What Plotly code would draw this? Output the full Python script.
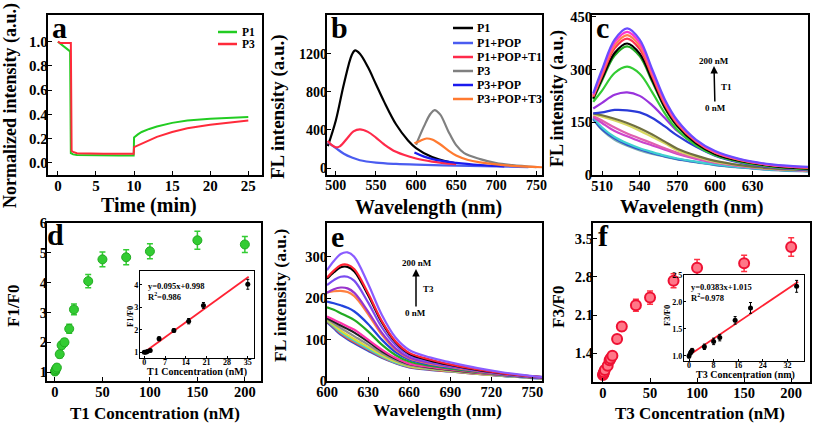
import plotly.graph_objects as go

W, H = 813, 427
FONT = "Liberation Serif"

# ---------------- Panel a data ----------------
a_t_p1 = [0, 0.5, 1.0, 1.6, 1.7, 2.0, 2.5, 4, 6, 8, 9.95, 10.0, 10.5, 11, 12, 13, 15, 17, 20, 22, 25]
a_y_p1 = [1.0, 0.975, 0.95, 0.92, 0.08, 0.07, 0.065, 0.062, 0.06, 0.06, 0.06, 0.21, 0.235, 0.255, 0.28, 0.30, 0.33, 0.35, 0.365, 0.37, 0.378]
a_t_p3 = [0, 0.3, 1.0, 1.7, 1.8, 2.0, 2.5, 4, 6, 8, 9.95, 10.0, 10.5, 11, 12, 13, 15, 17, 20, 22, 25]
a_y_p3 = [1.0, 0.99, 0.99, 0.99, 0.10, 0.09, 0.08, 0.076, 0.075, 0.075, 0.075, 0.13, 0.145, 0.16, 0.19, 0.215, 0.255, 0.285, 0.315, 0.33, 0.35]

# ---------------- Panel b data ----------------
b_wl_p1 = [490, 500, 510, 520, 524, 530, 540, 550, 560, 575, 590, 600, 620, 640, 650]
b_p1 = [230, 500, 880, 1190, 1235, 1200, 1060, 880, 700, 460, 290, 210, 115, 65, 50]
b_wl_p1pop = [490, 500, 510, 520, 530, 550, 575, 600, 650, 700, 740]
b_p1pop = [270, 210, 150, 110, 82, 57, 43, 35, 25, 16, 10]
b_wl_p1popt1 = [490, 495, 500, 505, 515, 522, 530, 540, 550, 560, 575, 600, 620, 650]
b_p1popt1 = [285, 240, 218, 228, 320, 385, 407, 380, 320, 250, 170, 100, 68, 40]
b_wl_p3 = [600, 610, 618, 623, 630, 640, 650, 660, 680, 700, 720, 750]
b_p3 = [245, 440, 570, 609, 563, 390, 240, 157, 94, 52, 31, 10]
b_wl_p3pop = [598, 610, 625, 650, 680, 710]
b_p3pop = [163, 120, 85, 55, 32, 18]
b_wl_p3popt3 = [598, 605, 613, 620, 630, 640, 650, 665, 680, 700, 725, 758]
b_p3popt3 = [260, 285, 310, 300, 250, 185, 132, 85, 60, 38, 20, 8]
b_names = ["P1", "P1+POP", "P1+POP+T1", "P3", "P3+POP", "P3+POP+T3"]
b_colors = ["#000000", "#4a5cf0", "#ff2a4a", "#808080", "#1a1aee", "#ff7a30"]

# ---------------- Panel c data ----------------
c_wl = [503, 510, 520, 530, 540, 550, 560, 570, 585, 600, 620, 645, 674]
c_curves = [
    [232, 300, 385, 417, 385, 300, 215, 155, 100, 68, 45, 30, 23],
    [228, 294, 377, 407, 376, 293, 210, 151, 98, 66, 44, 29, 22],
    [225, 288, 368, 398, 367, 286, 205, 148, 96, 64, 43, 28, 21],
    [222, 282, 360, 388, 358, 280, 200, 145, 94, 63, 42, 28, 21],
    [218, 274, 347, 374, 345, 270, 193, 140, 90, 60, 40, 26, 18],
    [215, 269, 340, 366, 338, 265, 190, 138, 89, 59, 39, 25, 17],
    [208, 240, 290, 308, 288, 235, 175, 128, 84, 56, 37, 24, 16],
    [189, 205, 228, 235, 225, 198, 162, 125, 85, 57, 37, 23, 15],
    [175, 178, 185, 184, 178, 162, 138, 112, 80, 55, 35, 22, 14],
    [175, 170, 160, 148, 133, 115, 95, 75, 55, 40, 28, 19, 14],
    [172, 166, 155, 142, 126, 108, 90, 70, 52, 38, 27, 18, 13],
    [168, 155, 135, 118, 104, 90, 76, 63, 48, 36, 26, 17, 12],
    [165, 148, 125, 110, 96, 84, 72, 60, 46, 35, 25, 17, 12],
    [163, 135, 108, 90, 76, 65, 55, 47, 38, 30, 22, 15, 11],
    [160, 130, 104, 86, 73, 62, 53, 45, 37, 29, 22, 15, 11],
    [158, 128, 100, 83, 70, 60, 52, 44, 36, 28, 21, 14, 10],
]
c_colors = ["#6a4cff", "#ff33cc", "#ff7f50", "#ff3355", "#000000", "#22aa22", "#33cc33",
            "#9933dd", "#2a3ad8", "#707040", "#d8d860", "#e060b0", "#cc44cc", "#40d0d0",
            "#3050d0", "#80b0b0"]

# ---------------- Panel d data ----------------
d_x = [0, 0.5, 1, 2, 5, 7, 10, 15, 20, 35, 50, 75, 100, 150, 200]
d_y = [1.02, 1.05, 1.1, 1.15, 1.6, 1.9, 2.0, 2.45, 3.1, 4.05, 4.78, 4.85, 5.05, 5.42, 5.28]
d_err = [0.1, 0.1, 0.1, 0.1, 0.12, 0.12, 0.12, 0.15, 0.18, 0.22, 0.25, 0.25, 0.25, 0.3, 0.27]
di_x = [0, 0.5, 1, 2, 5, 10, 15, 20, 35]
di_y = [1.0, 1.0, 1.03, 1.08, 1.6, 1.97, 2.38, 3.08, 4.02]
di_err = [0.05, 0.05, 0.05, 0.06, 0.09, 0.08, 0.12, 0.13, 0.22]
di_fit_x = [0, 35.3]
di_fit_y = [0.998, 4.352]

# ---------------- Panel e data ----------------
e_wl = [600, 605, 610, 615, 620, 630, 640, 650, 660, 675, 690, 710, 730, 750, 758]
e_curves = [
    [268, 290, 307, 311, 300, 235, 160, 105, 75, 57, 45, 31, 20, 12, 10],
    [250, 267, 280, 281, 270, 212, 145, 96, 68, 52, 40, 28, 18, 11, 9],
    [247, 263, 275, 276, 265, 208, 142, 94, 66, 50, 39, 27, 18, 11, 9],
    [232, 244, 252, 252, 242, 190, 130, 87, 62, 47, 37, 26, 17, 10, 8],
    [213, 222, 226, 224, 213, 168, 117, 79, 57, 44, 35, 25, 16, 10, 8],
    [214, 217, 218, 215, 205, 162, 112, 76, 55, 42, 34, 24, 16, 10, 8],
    [192, 188, 183, 177, 168, 138, 100, 70, 52, 40, 32, 23, 15, 9, 7],
    [178, 172, 164, 156, 147, 120, 88, 63, 47, 37, 30, 22, 15, 9, 7],
    [156, 148, 140, 132, 124, 100, 76, 56, 42, 34, 28, 20, 14, 9, 7],
    [152, 143, 134, 126, 117, 95, 72, 54, 41, 33, 27, 20, 14, 9, 7],
    [150, 139, 128, 118, 108, 88, 67, 50, 38, 31, 26, 19, 13, 8, 6],
    [148, 135, 122, 111, 101, 82, 63, 47, 36, 30, 25, 18, 13, 8, 6],
    [146, 132, 118, 107, 97, 78, 60, 45, 35, 29, 24, 18, 12, 8, 6],
    [144, 130, 115, 104, 94, 76, 58, 44, 34, 28, 23, 17, 12, 8, 6],
    [142, 127, 112, 101, 91, 73, 56, 43, 33, 27, 23, 17, 12, 7, 6],
]
e_colors = ["#8a5cff", "#ff2233", "#000000", "#7a4cf0", "#9933cc", "#ff8040", "#2244dd",
            "#22aa22", "#ff33aa", "#222222", "#909090", "#dddd33", "#40d0d0", "#ff5533", "#3050d0"]

# ---------------- Panel f data ----------------
f_x = [0, 0.5, 1, 2, 5, 7, 8, 10, 15, 20, 35, 50, 75, 100, 150, 200]
f_y = [1.0, 1.02, 1.05, 1.09, 1.17, 1.27, 1.3, 1.35, 1.66, 1.89, 2.28, 2.42, 2.73, 2.97, 3.05, 3.35]
f_err = [0.04, 0.04, 0.04, 0.05, 0.05, 0.05, 0.05, 0.06, 0.07, 0.08, 0.11, 0.12, 0.13, 0.15, 0.15, 0.17]
fi_x = [0, 0.5, 1, 5, 8, 10, 15, 20, 35]
fi_y = [1.0, 1.06, 1.1, 1.17, 1.27, 1.34, 1.66, 1.89, 2.29]
fi_err = [0.04, 0.04, 0.04, 0.05, 0.06, 0.06, 0.07, 0.1, 0.11]
fi_fit_x = [0, 35.5]
fi_fit_y = [1.015, 2.375]

fig = go.Figure()


def px_x(p):
    return p / W


def px_y(p):
    return 1 - p / H


# Panel a
fig.add_trace(go.Scatter(x=a_t_p1, y=a_y_p1, mode="lines", line=dict(color="#22cc22", width=2),
                         xaxis="x", yaxis="y", showlegend=False))
fig.add_trace(go.Scatter(x=a_t_p3, y=a_y_p3, mode="lines", line=dict(color="#ff2a3a", width=2),
                         xaxis="x", yaxis="y", showlegend=False))

# Panel b
b_sets = [(b_wl_p1, b_p1), (b_wl_p1pop, b_p1pop), (b_wl_p1popt1, b_p1popt1),
          (b_wl_p3, b_p3), (b_wl_p3pop, b_p3pop), (b_wl_p3popt3, b_p3popt3)]
for (wx, wy), col in zip(b_sets, b_colors):
    fig.add_trace(go.Scatter(x=wx, y=wy, mode="lines", line=dict(color=col, width=2.2, shape="spline"),
                             xaxis="x2", yaxis="y2", showlegend=False))

# Panel c (draw lowest first)
for cy, col in reversed(list(zip(c_curves, c_colors))):
    fig.add_trace(go.Scatter(x=c_wl, y=cy, mode="lines", line=dict(color=col, width=2.2, shape="spline"),
                             xaxis="x3", yaxis="y3", showlegend=False))

# Panel d
fig.add_trace(go.Scatter(x=d_x, y=d_y, mode="markers",
                         marker=dict(color="#33cc33", size=9, line=dict(color="#22aa22", width=1)),
                         error_y=dict(type="data", array=d_err, color="#33cc33", thickness=1.5, width=3),
                         xaxis="x4", yaxis="y4", showlegend=False))

# Panel e
for ey, col in reversed(list(zip(e_curves, e_colors))):
    fig.add_trace(go.Scatter(x=e_wl, y=ey, mode="lines", line=dict(color=col, width=2.2, shape="spline"),
                             xaxis="x5", yaxis="y5", showlegend=False))

# Panel f
fig.add_trace(go.Scatter(x=f_x, y=f_y, mode="markers",
                         marker=dict(color="#ff7788", size=10, line=dict(color="#ee1133", width=2)),
                         error_y=dict(type="data", array=f_err, color="#ff3344", thickness=1.5, width=3),
                         xaxis="x6", yaxis="y6", showlegend=False))

# Inset d
fig.add_trace(go.Scatter(x=di_fit_x, y=di_fit_y, mode="lines", line=dict(color="#ff2233", width=1.8),
                         xaxis="x7", yaxis="y7", showlegend=False))
fig.add_trace(go.Scatter(x=di_x, y=di_y, mode="markers", marker=dict(color="black", size=5),
                         error_y=dict(type="data", array=di_err, color="black", thickness=1, width=1.5),
                         xaxis="x7", yaxis="y7", showlegend=False))
# Inset f
fig.add_trace(go.Scatter(x=fi_fit_x, y=fi_fit_y, mode="lines", line=dict(color="#ff2233", width=1.8),
                         xaxis="x8", yaxis="y8", showlegend=False))
fig.add_trace(go.Scatter(x=fi_x, y=fi_y, mode="markers", marker=dict(color="black", size=5),
                         error_y=dict(type="data", array=fi_err, color="black", thickness=1, width=1.5),
                         xaxis="x8", yaxis="y8", showlegend=False))


def ax(domain_px, rng, tickvals, fsize, fmt=None, anchor=None, small=False, horiz=True):
    if horiz:
        dom = [px_x(domain_px[0]), px_x(domain_px[1])]
        standoff = -4
    else:
        dom = [px_y(domain_px[1]), px_y(domain_px[0])]
        standoff = -1 if small else -5
    d = dict(domain=dom, range=rng, tickvals=tickvals, showline=True, mirror=True,
             linecolor="black", linewidth=1.2 if small else 2.4, ticks="inside",
             ticklen=2 if small else 4, tickwidth=1.2, tickcolor="black",
             showgrid=False, zeroline=False, anchor=anchor,
             tickfont=dict(family=FONT, size=fsize, color="black", weight="bold"),
             ticklabelstandoff=standoff)
    if fmt:
        d["tickformat"] = fmt
    return d


layout = dict(width=W, height=H, margin=dict(l=0, r=0, t=0, b=0),
              paper_bgcolor="white", plot_bgcolor="white", template=None)

boxes = {
    1: ((48, 262), (15, 175)),
    2: ((327, 542), (15, 175)),
    3: ((592, 808), (15, 175)),
    4: ((47, 261), (223, 381)),
    5: ((327, 542), (223, 381)),
    6: ((593, 810), (223, 382)),
    7: ((140, 254), (271, 358)),
    8: ((684, 804), (275, 361)),
}
xr = {1: [-1.3, 26.8], 2: [489, 757], 3: [502, 674], 4: [-8.4, 217], 5: [600, 757],
      6: [-10.6, 220], 7: [-1.46, 37.1], 8: [-1.63, 37.4]}
yr = {1: [-0.1, 1.22], 2: [-73, 1607], 3: [0, 455], 4: [0.7, 6], 5: [0, 382],
      6: [0.87, 3.79], 7: [0.745, 4.61], 8: [0.907, 2.5]}
xt = {1: [0, 5, 10, 15, 20, 25], 2: [500, 550, 600, 650, 700, 750], 3: [510, 540, 570, 600, 630],
      4: [0, 50, 100, 150, 200], 5: [600, 630, 660, 690, 720, 750], 6: [0, 50, 100, 150, 200],
      7: [0, 7, 14, 21, 28, 35], 8: [0, 8, 16, 24, 32]}
yt = {1: [0, 0.2, 0.4, 0.6, 0.8, 1.0], 2: [0, 400, 800, 1200], 3: [0, 150, 300, 450],
      4: [1, 2, 3, 4, 5, 6], 5: [0, 100, 200, 300], 6: [1.4, 2.1, 2.8, 3.5],
      7: [1, 2, 3, 4], 8: [1.0, 1.5, 2.0, 2.5]}
yfmt = {1: ".1f", 6: ".1f", 8: ".1f"}
tsize = {1: 15, 2: 14, 3: 14.5, 4: 14.5, 5: 14.5, 6: 14.5, 7: 8, 8: 8}

for i in range(1, 9):
    xs = "xaxis" if i == 1 else f"xaxis{i}"
    ys = "yaxis" if i == 1 else f"yaxis{i}"
    small = i >= 7
    layout[xs] = ax(boxes[i][0], xr[i], xt[i], tsize[i], anchor="y" if i == 1 else f"y{i}", small=small)
    layout[ys] = ax(boxes[i][1], yr[i], yt[i], tsize[i], fmt=yfmt.get(i),
                    anchor="x" if i == 1 else f"x{i}", small=small, horiz=False)

fig.update_layout(**layout)

annotations = []


def ann(text, x, y, size, angle=0, xanchor="center", **kw):
    d = dict(text=text, x=px_x(x), y=px_y(y), xref="paper", yref="paper",
             showarrow=False, textangle=angle, xanchor=xanchor, yanchor="middle",
             font=dict(family=FONT, size=size, color="black", weight="bold"))
    d.update(kw)
    annotations.append(d)


# axis titles
ann("Normalized intensity (a.u.)", 10, 106, 18, -90)
ann("Time (min)", 149, 205, 20)
ann("FL intensity (a.u.)", 278, 107, 19, -90)
ann("Wavelength (nm)", 429, 207, 20)
ann("FL intensity (a.u.)", 557, 99, 18, -90)
ann("Wavelength (nm)", 692, 207, 19.5)
ann("F1/F0", 13, 305, 17, -90)
ann("T1 Concentration (nM)", 155, 413, 17)
ann("FL intensity (a.u.)", 280, 296, 17.5, -90)
ann("Wavelength (nm)", 437, 410, 17.5)
ann("F3/F0", 558, 307, 17, -90)
ann("T3 Concentration (nM)", 700, 413, 17)
# panel letters
for lt, lx, ly in [("a", 59, 28), ("b", 339, 28), ("c", 602, 28), ("d", 55, 235), ("e", 337, 237), ("f", 603, 236)]:
    ann(lt, lx, ly, 30)
# legend panel a
ann("P1", 240, 32, 11.5, xanchor="left")
ann("P3", 240, 44, 11.5, xanchor="left")
# legend panel b
b_rows = [28, 43, 57, 71, 85, 99]
for nm, ry in zip(b_names, b_rows):
    ann(nm, 475, ry, 12, xanchor="left")
# arrow labels c (arrow drawn from "0 nM" label up to the head)
ann("200 nM", 714, 61, 9)
ann("T1", 726, 87, 9)
ann("0 nM", 714, 66, 9, showarrow=True, ax=1, ay=42, axref="pixel", ayref="pixel",
    arrowhead=2, arrowsize=1, arrowwidth=1.5, arrowcolor="black", standoff=0)
# arrow labels e
ann("200 nM", 417, 263, 9)
ann("T3", 428, 289, 9)
ann("0 nM", 416, 269, 9, showarrow=True, ax=0, ay=44, axref="pixel", ayref="pixel",
    arrowhead=2, arrowsize=1, arrowwidth=1.5, arrowcolor="black", standoff=0)
# inset text d
ann("y=0.095x+0.998", 146, 286, 8.5, xanchor="left")
ann("R<sup>2</sup>=0.986", 146, 296, 8.5, xanchor="left")
ann("F1/F0", 130, 317, 8.5, -90)
ann("T1 Concentration (nM)", 197, 372, 10)
# inset text f
ann("y=0.0383x+1.015", 689, 287, 8.5, xanchor="left")
ann("R<sup>2</sup>=0.978", 689, 297, 8.5, xanchor="left")
ann("F3/F0", 667, 316, 8.5, -90)
ann("T3 Concentration (nm)", 745, 375, 10)

shapes = []
for yy, col in [(32, "#22cc22"), (44, "#ff2a3a")]:
    shapes.append(dict(type="line", xref="paper", yref="paper", x0=px_x(218), x1=px_x(237),
                       y0=px_y(yy), y1=px_y(yy), line=dict(color=col, width=2.5)))
for yy, col in zip(b_rows, b_colors):
    shapes.append(dict(type="line", xref="paper", yref="paper", x0=px_x(453), x1=px_x(473),
                       y0=px_y(yy), y1=px_y(yy), line=dict(color=col, width=2.5)))

fig.update_layout(annotations=annotations, shapes=shapes)
fig.write_html("out.html", config={"displayModeBar": False},
               post_script="document.body.style.margin='0';document.body.style.overflow='hidden';")
